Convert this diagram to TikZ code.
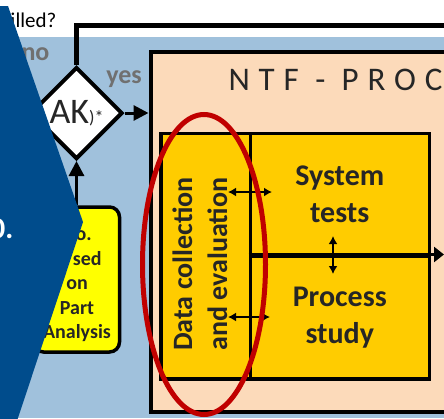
\documentclass[tikz,border=0pt]{standalone}
\usepackage{fontspec}
\setmainfont{Carlito}
\usetikzlibrary{arrows.meta,shapes.geometric}
\pgfdeclarelayer{background}
\pgfdeclarelayer{foreground}
\pgfsetlayers{background,main,foreground}
\definecolor{skyblue}{RGB}{160,193,220}
\definecolor{peach}{RGB}{252,218,186}
\definecolor{amber}{RGB}{255,204,0}
\definecolor{brightyellow}{RGB}{255,255,0}
\definecolor{redring}{RGB}{192,0,0}
\definecolor{navyblue}{RGB}{0,76,140}
\definecolor{txtgray}{RGB}{38,38,38}
\definecolor{lblgray}{RGB}{112,112,112}

\begin{document}
\begin{tikzpicture}[x=1pt,y=-1pt,
  box/.style={draw,line width=3.5pt,inner sep=0pt},
  flow/.style={line width=3pt,-{Triangle[length=15pt,width=15pt]}},
  dbl/.style={line width=1.6pt,{Latex[length=8pt,width=9pt]}-{Latex[length=8pt,width=9pt]}},
  lbl/.style={font=\bfseries\fontsize{30}{37}\selectfont,text=txtgray,align=center}]
\useasboundingbox (0,0) rectangle (444,418);
\begin{pgfonlayer}{background}
\fill[white] (0,0) rectangle (444,37);
\fill[skyblue] (0,37) rectangle (444,418);
\end{pgfonlayer}

% NTF process
\node[box,fill=peach,line width=4pt,minimum width=330pt,minimum height=359.5pt,anchor=north west] (ntf) at (148.5,50) {};
\node[anchor=base west,font=\fontsize{33}{40}\selectfont\addfontfeature{LetterSpace=27},text=txtgray] (title) at (225,90) {NTF - PROC};
\node[box,fill=amber,minimum width=89.5pt,minimum height=245.5pt,anchor=north west] (dce) at (159,131.5) {};
\node[box,fill=amber,lbl,minimum width=179pt,minimum height=123pt,anchor=north west] (sys) at (248.5,131.5) {System\\tests};
\node[box,fill=amber,lbl,minimum width=179pt,minimum height=122.5pt,anchor=north west] (proc) at (248.5,254.5) {Process\\study};
\node[rotate=90,font=\bfseries\fontsize{28}{35}\selectfont,text=txtgray,align=center] (dctext) at (200,264) {Data collection\\and evaluation};

\coordinate (exit) at (444,254.5);
\draw[line width=3.5pt,-{Triangle[length=10pt,width=15pt]}] (proc.north west) -- (proc.north west -| exit);

\coordinate (d1) at (228,192);
\coordinate (s1) at (272,192);
\coordinate (d2) at (228,317);
\coordinate (p2) at (270,317);
\coordinate (s3) at (333,236);
\coordinate (p3) at (333,274);
\draw[dbl] (d1) -- (s1);
\draw[dbl] (d2) -- (p2);
\draw[dbl] (s3) -- (p3);

% decision
\node[diamond,draw,fill=white,line width=4pt,minimum size=92pt,inner sep=0pt,text=txtgray,font=\fontsize{36}{40}\selectfont] (ak) at (76.5,113) {AK{\fontsize{18}{18}\selectfont)*}};
\coordinate (topright) at (450,25.5);
\draw[line width=5pt] (ak.north) |- (topright);
\draw[flow] (ak.east) -- (ak.east -| ntf.west);
\node[anchor=base east,font=\fontsize{21}{25}\selectfont] (cond) at (60,27) {filled?};
\node[anchor=base east,font=\bfseries\fontsize{26}{30}\selectfont,text=lblgray] (no) at (53,60) {no};
\node[anchor=base,font=\bfseries\fontsize{26}{30}\selectfont,text=lblgray] (yes) at (124,83) {yes};

% part analysis
\node[box,fill=brightyellow,rounded corners=10pt,minimum width=86pt,minimum height=145pt] (fpa) at (76.5,279.5) {};
\node[font=\bfseries\fontsize{20}{24.5}\selectfont,text=txtgray,align=center] (fpatext) at (77,285) {\phantom{N}o.\\\phantom{ba}sed\\on\\Part\\Analysis};
\draw[flow] (fpa.north) -- (ak.south);

\draw[redring,line width=5pt] (204,264.5) ellipse [x radius=61.5, y radius=150];

\begin{pgfonlayer}{foreground}
\fill[navyblue] (-10,6) -- (8,6) -- (83,222) -- (14,430) -- (-10,430) -- cycle;
\node[anchor=base east,text=white,font=\bfseries\fontsize{30}{36}\selectfont] (zero) at (17,238) {0.};
\end{pgfonlayer}
\end{tikzpicture}
\end{document}
